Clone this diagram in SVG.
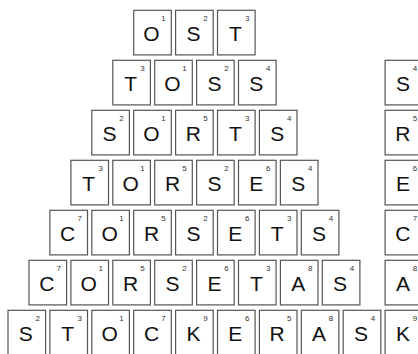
<svg xmlns="http://www.w3.org/2000/svg" width="418" height="354" viewBox="0 0 418 354">
<style>
.t rect{fill:#fff;stroke:#555;stroke-width:1.2}
.t .l{font-family:"Liberation Sans",Arial,sans-serif;font-size:21px;fill:#111;text-anchor:middle}
.t .n{font-family:"Liberation Sans",Arial,sans-serif;font-size:8px;fill:#333;text-anchor:middle}
</style>
<rect width="418" height="354" fill="#fff"/>
<g id="row1">
<g id="r1t1" class="t" transform="translate(133.7,10.3)"><rect width="37.6" height="44.6"/><text class="l" x="17.8" y="30.5">O</text><text class="n" x="29.8" y="10.6">1</text></g>
<g id="r1t2" class="t" transform="translate(175.6,10.3)"><rect width="37.6" height="44.6"/><text class="l" x="17.8" y="30.5">S</text><text class="n" x="29.8" y="10.6">2</text></g>
<g id="r1t3" class="t" transform="translate(217.5,10.3)"><rect width="37.6" height="44.6"/><text class="l" x="17.8" y="30.5">T</text><text class="n" x="29.8" y="10.6">3</text></g>
</g>
<g id="row2">
<g id="r2t1" class="t" transform="translate(112.8,60.3)"><rect width="37.6" height="44.6"/><text class="l" x="17.8" y="30.5">T</text><text class="n" x="29.8" y="10.6">3</text></g>
<g id="r2t2" class="t" transform="translate(154.7,60.3)"><rect width="37.6" height="44.6"/><text class="l" x="17.8" y="30.5">O</text><text class="n" x="29.8" y="10.6">1</text></g>
<g id="r2t3" class="t" transform="translate(196.6,60.3)"><rect width="37.6" height="44.6"/><text class="l" x="17.8" y="30.5">S</text><text class="n" x="29.8" y="10.6">2</text></g>
<g id="r2t4" class="t" transform="translate(238.5,60.3)"><rect width="37.6" height="44.6"/><text class="l" x="17.8" y="30.5">S</text><text class="n" x="29.8" y="10.6">4</text></g>
<g id="r2x" class="t" transform="translate(385.1,60.3)"><rect width="37.6" height="44.6"/><text class="l" x="17.8" y="30.5">S</text><text class="n" x="29.8" y="10.6">4</text></g>
</g>
<g id="row3">
<g id="r3t1" class="t" transform="translate(91.8,110.3)"><rect width="37.6" height="44.6"/><text class="l" x="17.8" y="30.5">S</text><text class="n" x="29.8" y="10.6">2</text></g>
<g id="r3t2" class="t" transform="translate(133.7,110.3)"><rect width="37.6" height="44.6"/><text class="l" x="17.8" y="30.5">O</text><text class="n" x="29.8" y="10.6">1</text></g>
<g id="r3t3" class="t" transform="translate(175.6,110.3)"><rect width="37.6" height="44.6"/><text class="l" x="17.8" y="30.5">R</text><text class="n" x="29.8" y="10.6">5</text></g>
<g id="r3t4" class="t" transform="translate(217.5,110.3)"><rect width="37.6" height="44.6"/><text class="l" x="17.8" y="30.5">T</text><text class="n" x="29.8" y="10.6">3</text></g>
<g id="r3t5" class="t" transform="translate(259.4,110.3)"><rect width="37.6" height="44.6"/><text class="l" x="17.8" y="30.5">S</text><text class="n" x="29.8" y="10.6">4</text></g>
<g id="r3x" class="t" transform="translate(385.1,110.3)"><rect width="37.6" height="44.6"/><text class="l" x="17.8" y="30.5">R</text><text class="n" x="29.8" y="10.6">5</text></g>
</g>
<g id="row4">
<g id="r4t1" class="t" transform="translate(70.9,160.3)"><rect width="37.6" height="44.6"/><text class="l" x="17.8" y="30.5">T</text><text class="n" x="29.8" y="10.6">3</text></g>
<g id="r4t2" class="t" transform="translate(112.8,160.3)"><rect width="37.6" height="44.6"/><text class="l" x="17.8" y="30.5">O</text><text class="n" x="29.8" y="10.6">1</text></g>
<g id="r4t3" class="t" transform="translate(154.7,160.3)"><rect width="37.6" height="44.6"/><text class="l" x="17.8" y="30.5">R</text><text class="n" x="29.8" y="10.6">5</text></g>
<g id="r4t4" class="t" transform="translate(196.6,160.3)"><rect width="37.6" height="44.6"/><text class="l" x="17.8" y="30.5">S</text><text class="n" x="29.8" y="10.6">2</text></g>
<g id="r4t5" class="t" transform="translate(238.5,160.3)"><rect width="37.6" height="44.6"/><text class="l" x="17.8" y="30.5">E</text><text class="n" x="29.8" y="10.6">6</text></g>
<g id="r4t6" class="t" transform="translate(280.4,160.3)"><rect width="37.6" height="44.6"/><text class="l" x="17.8" y="30.5">S</text><text class="n" x="29.8" y="10.6">4</text></g>
<g id="r4x" class="t" transform="translate(385.1,160.3)"><rect width="37.6" height="44.6"/><text class="l" x="17.8" y="30.5">E</text><text class="n" x="29.8" y="10.6">6</text></g>
</g>
<g id="row5">
<g id="r5t1" class="t" transform="translate(49.9,210.3)"><rect width="37.6" height="44.6"/><text class="l" x="17.8" y="30.5">C</text><text class="n" x="29.8" y="10.6">7</text></g>
<g id="r5t2" class="t" transform="translate(91.8,210.3)"><rect width="37.6" height="44.6"/><text class="l" x="17.8" y="30.5">O</text><text class="n" x="29.8" y="10.6">1</text></g>
<g id="r5t3" class="t" transform="translate(133.7,210.3)"><rect width="37.6" height="44.6"/><text class="l" x="17.8" y="30.5">R</text><text class="n" x="29.8" y="10.6">5</text></g>
<g id="r5t4" class="t" transform="translate(175.6,210.3)"><rect width="37.6" height="44.6"/><text class="l" x="17.8" y="30.5">S</text><text class="n" x="29.8" y="10.6">2</text></g>
<g id="r5t5" class="t" transform="translate(217.5,210.3)"><rect width="37.6" height="44.6"/><text class="l" x="17.8" y="30.5">E</text><text class="n" x="29.8" y="10.6">6</text></g>
<g id="r5t6" class="t" transform="translate(259.4,210.3)"><rect width="37.6" height="44.6"/><text class="l" x="17.8" y="30.5">T</text><text class="n" x="29.8" y="10.6">3</text></g>
<g id="r5t7" class="t" transform="translate(301.3,210.3)"><rect width="37.6" height="44.6"/><text class="l" x="17.8" y="30.5">S</text><text class="n" x="29.8" y="10.6">4</text></g>
<g id="r5x" class="t" transform="translate(385.1,210.3)"><rect width="37.6" height="44.6"/><text class="l" x="17.8" y="30.5">C</text><text class="n" x="29.8" y="10.6">7</text></g>
</g>
<g id="row6">
<g id="r6t1" class="t" transform="translate(29,260.3)"><rect width="37.6" height="44.6"/><text class="l" x="17.8" y="30.5">C</text><text class="n" x="29.8" y="10.6">7</text></g>
<g id="r6t2" class="t" transform="translate(70.9,260.3)"><rect width="37.6" height="44.6"/><text class="l" x="17.8" y="30.5">O</text><text class="n" x="29.8" y="10.6">1</text></g>
<g id="r6t3" class="t" transform="translate(112.8,260.3)"><rect width="37.6" height="44.6"/><text class="l" x="17.8" y="30.5">R</text><text class="n" x="29.8" y="10.6">5</text></g>
<g id="r6t4" class="t" transform="translate(154.7,260.3)"><rect width="37.6" height="44.6"/><text class="l" x="17.8" y="30.5">S</text><text class="n" x="29.8" y="10.6">2</text></g>
<g id="r6t5" class="t" transform="translate(196.6,260.3)"><rect width="37.6" height="44.6"/><text class="l" x="17.8" y="30.5">E</text><text class="n" x="29.8" y="10.6">6</text></g>
<g id="r6t6" class="t" transform="translate(238.5,260.3)"><rect width="37.6" height="44.6"/><text class="l" x="17.8" y="30.5">T</text><text class="n" x="29.8" y="10.6">3</text></g>
<g id="r6t7" class="t" transform="translate(280.4,260.3)"><rect width="37.6" height="44.6"/><text class="l" x="17.8" y="30.5">A</text><text class="n" x="29.8" y="10.6">8</text></g>
<g id="r6t8" class="t" transform="translate(322.3,260.3)"><rect width="37.6" height="44.6"/><text class="l" x="17.8" y="30.5">S</text><text class="n" x="29.8" y="10.6">4</text></g>
<g id="r6x" class="t" transform="translate(385.1,260.3)"><rect width="37.6" height="44.6"/><text class="l" x="17.8" y="30.5">A</text><text class="n" x="29.8" y="10.6">8</text></g>
</g>
<g id="row7">
<g id="r7t1" class="t" transform="translate(8,310.3)"><rect width="37.6" height="44.6"/><text class="l" x="17.8" y="30.5">S</text><text class="n" x="29.8" y="10.6">2</text></g>
<g id="r7t2" class="t" transform="translate(49.9,310.3)"><rect width="37.6" height="44.6"/><text class="l" x="17.8" y="30.5">T</text><text class="n" x="29.8" y="10.6">3</text></g>
<g id="r7t3" class="t" transform="translate(91.8,310.3)"><rect width="37.6" height="44.6"/><text class="l" x="17.8" y="30.5">O</text><text class="n" x="29.8" y="10.6">1</text></g>
<g id="r7t4" class="t" transform="translate(133.7,310.3)"><rect width="37.6" height="44.6"/><text class="l" x="17.8" y="30.5">C</text><text class="n" x="29.8" y="10.6">7</text></g>
<g id="r7t5" class="t" transform="translate(175.6,310.3)"><rect width="37.6" height="44.6"/><text class="l" x="17.8" y="30.5">K</text><text class="n" x="29.8" y="10.6">9</text></g>
<g id="r7t6" class="t" transform="translate(217.5,310.3)"><rect width="37.6" height="44.6"/><text class="l" x="17.8" y="30.5">E</text><text class="n" x="29.8" y="10.6">6</text></g>
<g id="r7t7" class="t" transform="translate(259.4,310.3)"><rect width="37.6" height="44.6"/><text class="l" x="17.8" y="30.5">R</text><text class="n" x="29.8" y="10.6">5</text></g>
<g id="r7t8" class="t" transform="translate(301.3,310.3)"><rect width="37.6" height="44.6"/><text class="l" x="17.8" y="30.5">A</text><text class="n" x="29.8" y="10.6">8</text></g>
<g id="r7t9" class="t" transform="translate(343.2,310.3)"><rect width="37.6" height="44.6"/><text class="l" x="17.8" y="30.5">S</text><text class="n" x="29.8" y="10.6">4</text></g>
<g id="r7x" class="t" transform="translate(385.1,310.3)"><rect width="37.6" height="44.6"/><text class="l" x="17.8" y="30.5">K</text><text class="n" x="29.8" y="10.6">9</text></g>
</g>
<g id="connectors"/>
</svg>
